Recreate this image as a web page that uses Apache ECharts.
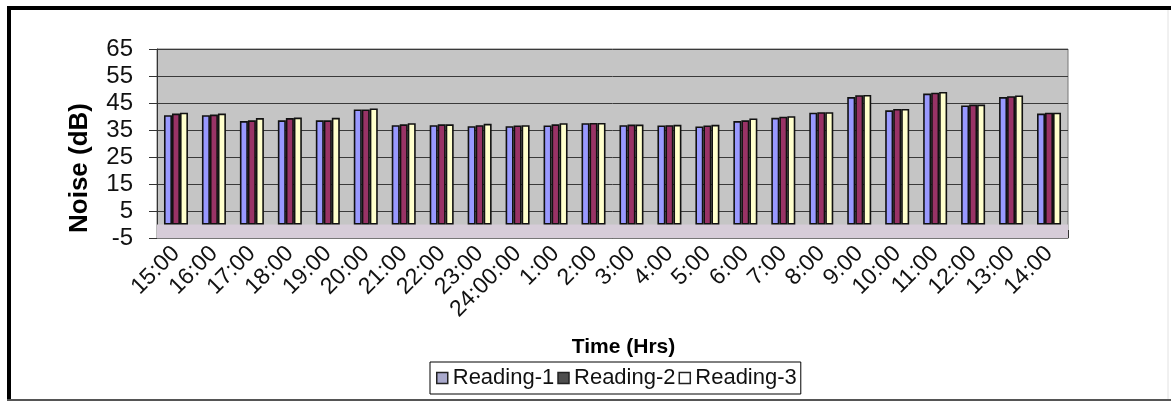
<!DOCTYPE html>
<html>
<head>
<meta charset="utf-8">
<title>Noise levels over 24 hours</title>
<script src="https://cdn.jsdelivr.net/npm/echarts@6/dist/echarts.min.js"></script>
<style>
  html, body { margin: 0; padding: 0; background: #ffffff; }
  #chart { width: 1171px; height: 403px; }
</style>
</head>
<body>
<div id="chart"></div>
<script>
// Hourly sampling times, starting at 15:00 and running through the next afternoon
const hours = ['15:00', '16:00', '17:00', '18:00', '19:00', '20:00', '21:00', '22:00',
  '23:00', '24:00:00', '1:00', '2:00', '3:00', '4:00', '5:00', '6:00', '7:00', '8:00',
  '9:00', '10:00', '11:00', '12:00', '13:00', '14:00'];

// Noise level readings in dB
const reading1 = [40.5, 40.5, 38.3, 38.6, 38.6, 42.6, 36.8, 36.8, 36.4, 36.4, 36.7, 37.5,
  36.8, 36.7, 36.3, 38.3, 39.5, 41.4, 47.2, 42.3, 48.5, 44.1, 47.2, 41.1];
const reading2 = [41.1, 40.7, 38.6, 39.4, 38.6, 42.6, 37.1, 37.1, 36.8, 36.7, 37.1, 37.6,
  37.0, 36.8, 36.7, 38.6, 39.9, 41.6, 47.9, 42.8, 48.8, 44.4, 47.5, 41.4];
const reading3 = [41.4, 41.1, 39.4, 39.6, 39.5, 43.0, 37.5, 37.1, 37.3, 36.8, 37.5, 37.6,
  37.0, 36.9, 36.9, 39.3, 40.1, 41.6, 48.0, 42.8, 49.1, 44.4, 47.8, 41.4];

const seriesNames = ['Reading-1', 'Reading-2', 'Reading-3'];
const yTicks = { min: -5, max: 65, interval: 10 };

const fillColors = ['#9999ff', '#993366', '#ffffcc'];
const legendSwatches = ['#a9a9cc', '#4e4e4e', '#ffffff'];
const font = '"Liberation Sans", Arial, sans-serif';

const chart = echarts.init(document.getElementById('chart'), null, { renderer: 'canvas' });

function barSeries(name, data, idx) {
  const s = {
    name: name,
    type: 'bar',
    data: data,
    barWidth: 8,
    barGap: '0%',
    itemStyle: { color: fillColors[idx], borderColor: '#111', borderWidth: 1.6 },
    emphasis: { disabled: true },
    animation: false
  };
  if (idx === 0) {
    // floor strip below zero
    s.markArea = {
      silent: true,
      itemStyle: { color: '#d6ccd8', borderWidth: 0 },
      data: [[{ yAxis: yTicks.min }, { yAxis: 0 }]]
    };
  }
  return s;
}

chart.setOption({
  animation: false,
  backgroundColor: '#ffffff',
  grid: {
    left: 157, right: 103, top: 49, bottom: 165,
    show: true, backgroundColor: '#c5c5c5', borderColor: '#777', borderWidth: 1
  },
  legend: {
    left: 430, top: 362,
    orient: 'horizontal',
    padding: [5, 4, 5, 6],
    itemGap: 3,
    itemWidth: 11, itemHeight: 11,
    borderColor: '#000', borderWidth: 1,
    icon: 'rect',
    textStyle: { fontFamily: font, fontSize: 22, color: '#111' },
    data: seriesNames.map((n, i) => ({
      name: n,
      itemStyle: { color: legendSwatches[i], borderColor: '#222', borderWidth: 1.5 }
    }))
  },
  xAxis: {
    type: 'category',
    data: hours,
    name: 'Time (Hrs)',
    nameLocation: 'middle',
    nameGap: 99,
    nameTextStyle: { fontFamily: font, fontSize: 21, fontWeight: 'bold', color: '#000', padding: [0, 0, 0, 22] },
    axisLine: { onZero: false, lineStyle: { color: '#777', width: 1 } },
    axisTick: { show: true, inside: true, length: 8, lineStyle: { color: '#333' } },
    axisLabel: {
      rotate: 45, margin: 12, interval: 0,
      fontFamily: font, fontSize: 23, color: '#111'
    },
    splitLine: { show: false }
  },
  yAxis: {
    type: 'value',
    min: yTicks.min, max: yTicks.max, interval: yTicks.interval,
    axisLine: { show: true, lineStyle: { color: '#333', width: 1 } },
    axisTick: { show: true, length: 8, lineStyle: { color: '#333' } },
    axisLabel: { margin: 24, fontFamily: font, fontSize: 24, color: '#111' },
    splitLine: { show: true, lineStyle: { color: '#3a3a3a', width: 1 } }
  },
  series: [
    barSeries(seriesNames[0], reading1, 0),
    barSeries(seriesNames[1], reading2, 1),
    barSeries(seriesNames[2], reading3, 2)
  ],
  graphic: [
    // y axis title
    {
      type: 'text', left: 67, top: 103, rotation: Math.PI / 2,
      style: { text: 'Noise (dB)', fontFamily: font, fontSize: 26, fontWeight: 'bold', fill: '#000' },
      z: 10
    },
    // frame around the figure
    { type: 'line', shape: { x1: 7, y1: 8, x2: 1171, y2: 8 }, style: { stroke: '#000', lineWidth: 4 }, z: 10 },
    { type: 'line', shape: { x1: 9, y1: 6, x2: 9, y2: 401 }, style: { stroke: '#000', lineWidth: 4 }, z: 10 },
    { type: 'line', shape: { x1: 7, y1: 400, x2: 1171, y2: 400 }, style: { stroke: '#555', lineWidth: 2 }, z: 10 },
    { type: 'line', shape: { x1: 1168, y1: 10, x2: 1168, y2: 399 }, style: { stroke: '#e2e2e2', lineWidth: 1 }, z: 10 }
  ]
});
</script>
</body>
</html>
